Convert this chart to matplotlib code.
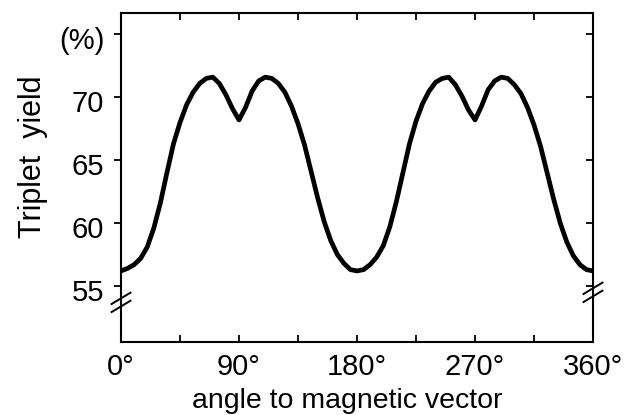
import matplotlib
matplotlib.use("Agg")
import matplotlib.pyplot as plt
import matplotlib.transforms as mtransforms
import matplotlib.markers as mmarkers

plt.rcParams['font.family'] = ['Liberation Sans', 'DejaVu Sans']

# angle to magnetic vector (degrees) and triplet yield (%)
angle = list(range(0, 365, 5))
yield_pct = [
    56.2, 56.4, 56.7, 57.2, 58.1, 59.6, 61.6, 64.0, 66.3, 68.0,
    69.4, 70.4, 71.1, 71.5, 71.6, 71.1, 70.2, 69.1, 68.2, 69.2,
    70.5, 71.3, 71.6, 71.5, 71.1, 70.4, 69.3, 67.9, 66.2, 64.1,
    62.0, 60.1, 58.6, 57.5, 56.8, 56.3, 56.2, 56.3, 56.7, 57.3,
    58.2, 59.7, 61.7, 64.0, 66.3, 68.1, 69.5, 70.5, 71.2, 71.5,
    71.6, 71.0, 70.1, 69.0, 68.2, 69.3, 70.6, 71.3, 71.6, 71.5,
    71.0, 70.3, 69.2, 67.8, 66.1, 64.0, 61.9, 60.0, 58.5, 57.4,
    56.7, 56.3, 56.2,
]

xticks = [0, 90, 180, 270, 360]
xtick_labels = ['0°', '90°', '180°', '270°', '360°']
xminor = [45, 135, 225, 315]
yticks = [55, 60, 65, 70, 75]
ytick_labels = ['55', '60', '65', '70', '(%)']
break_left = 53.7
break_right = 54.5

fig = plt.figure(figsize=(6.31, 4.15), dpi=100)
ax = fig.add_axes([0.1918, 0.1759, 0.748, 0.7928])

ax.plot(angle, yield_pct, color='black', lw=3.4, solid_capstyle='round')

ax.set_xlim(0, 360)
ax.set_ylim(50.55, 76.7)

ax.set_xticks(xticks)
ax.set_xticklabels(xtick_labels)
ax.set_xticks(xminor, minor=True)
ax.set_yticks(yticks)
ax.set_yticklabels(ytick_labels)

for s in ax.spines.values():
    s.set_linewidth(1.5)

ax.tick_params(axis='x', which='both', direction='in', top=True, length=5,
               width=1.3, labelsize=21, pad=8)
ax.tick_params(axis='y', which='both', direction='out', length=5,
               width=1.3, labelsize=21, pad=7, right=True)
# right-hand ticks point inward
for t in ax.yaxis.get_major_ticks():
    t.tick2line.set_marker(mmarkers.TICKLEFT)

# y tick labels sit a little below their ticks in the original
shift = mtransforms.ScaledTranslation(0, -4 / 100, fig.dpi_scale_trans)
for lab in ax.get_yticklabels():
    lab.set_transform(lab.get_transform() + shift)

ax.set_xlabel('angle to magnetic vector', fontsize=20.5)
ax.xaxis.set_label_coords(0.479, -0.14)
ax.set_ylabel('Triplet  yield', fontsize=22)
ax.yaxis.set_label_coords(-0.155, 0.562)

# axis break marks on both vertical spines
trans = mtransforms.blended_transform_factory(ax.transAxes, ax.transData)
for xs, yb in ((0.0, break_left), (1.0, break_right)):
    for off in (-0.32, 0.32):
        ax.plot([xs - 0.02, xs + 0.02],
                [yb - 0.45 + off, yb + 0.45 + off],
                color='black', lw=1.4, transform=trans, clip_on=False, zorder=6)

fig.savefig('out.png', dpi=100)
